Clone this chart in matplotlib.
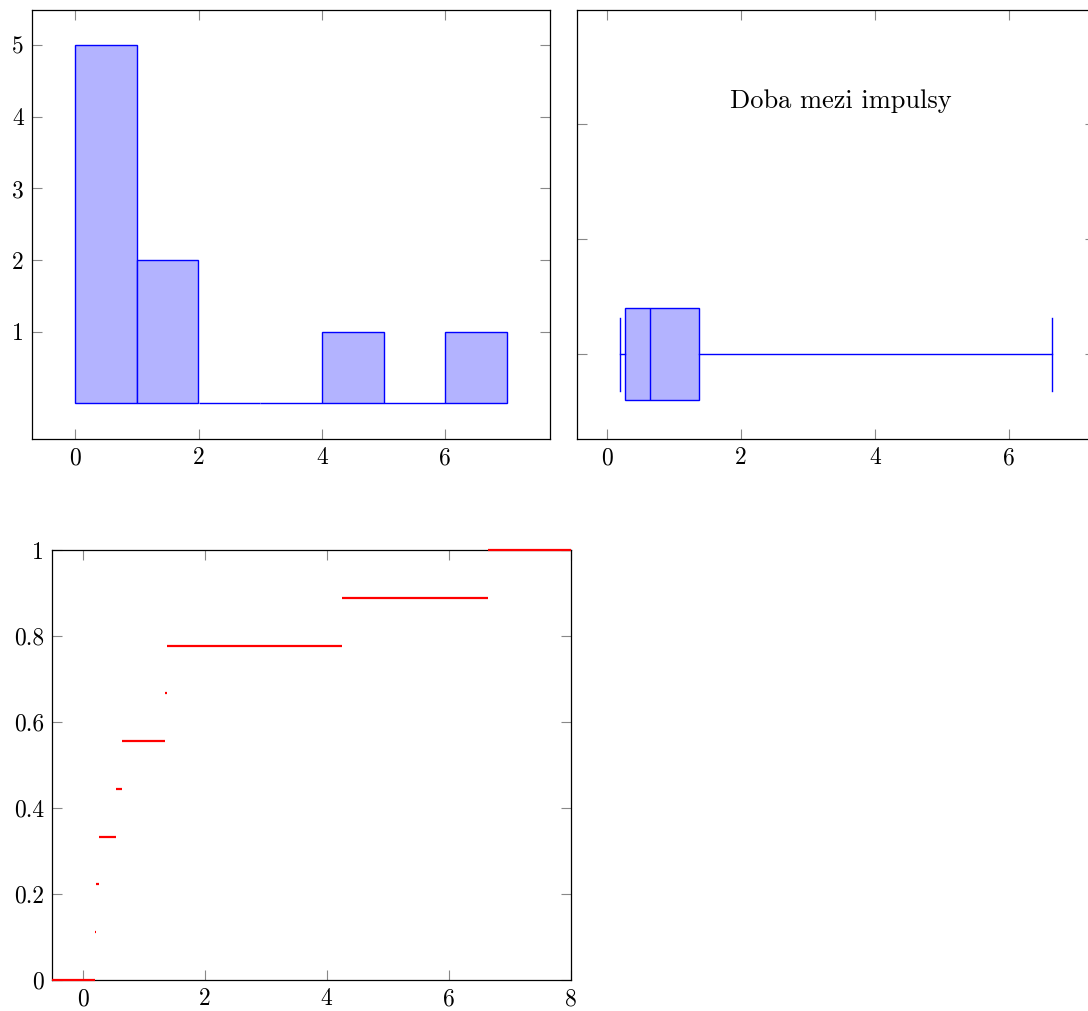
import numpy as np
import matplotlib
matplotlib.use("Agg")
import matplotlib.pyplot as plt

# Data: times between impulses (sorted)
samples = [0.2, 0.21, 0.27, 0.55, 0.65, 1.34, 1.38, 4.25, 6.64]
hist_bins = [0, 1, 2, 3, 4, 5, 6, 7]
box_label = "Doba mezi impulsy"
hist_yticks = [1, 2, 3, 4, 5]
hist_xticks = [0, 2, 4, 6]
box_yticks = [1, 2, 3]
ecdf_xticks = [0, 2, 4, 6, 8]
ecdf_yticks = [0, 0.2, 0.4, 0.6, 0.8, 1.0]
ecdf_yticklabels = ["0", "0.2", "0.4", "0.6", "0.8", "1"]

plt.rcParams['font.family'] = ['cmr10', 'DejaVu Serif']
plt.rcParams['axes.formatter.use_mathtext'] = True
plt.rcParams['mathtext.fontset'] = 'cm'

BLUE = '#0000ff'
FILL = '#b3b3ff'
RED = '#ff0000'
TICKC = '#888888'
FS = 17

W, H = 1088, 1011
fig = plt.figure(figsize=(W / 100, H / 100), dpi=100)


def axes_px(left, top, right, bottom):
    return fig.add_axes([left / W, 1 - bottom / H, (right - left) / W, (bottom - top) / H])


def style(ax):
    for s in ax.spines.values():
        s.set_color('black')
        s.set_linewidth(0.9)
    ax.tick_params(direction='in', length=7.5, width=0.8, color=TICKC,
                   top=True, right=True, labelsize=FS, pad=6)


# Histogram
ax1 = axes_px(32, 9.5, 550, 439)
ax1.hist(samples, bins=hist_bins, facecolor=FILL, edgecolor=BLUE, linewidth=1.0)
ax1.set_xlim(-0.7, 7.7)
ax1.set_ylim(-0.5, 5.5)
ax1.set_xticks(hist_xticks)
ax1.set_xticklabels([str(t) for t in hist_xticks])
ax1.set_yticks(hist_yticks)
ax1.set_yticklabels([str(t) for t in hist_yticks])
style(ax1)

# Box plot
ax2 = axes_px(577, 9.5, 1095, 439)
ax2.boxplot([samples], orientation='horizontal', positions=[1], widths=0.8,
            whis=(0, 100), patch_artist=True, capwidths=0.64,
            boxprops=dict(facecolor=FILL, edgecolor=BLUE, linewidth=1.0),
            medianprops=dict(color=BLUE, linewidth=1.0),
            whiskerprops=dict(color=BLUE, linewidth=1.0),
            capprops=dict(color=BLUE, linewidth=1.0),
            showfliers=False)
ax2.set_xlim(-0.444, 7.284)
ax2.set_ylim(0.263, 4.0)
ax2.set_xticks(hist_xticks)
ax2.set_xticklabels([str(t) for t in hist_xticks])
ax2.set_yticks(box_yticks)
ax2.set_yticklabels([])
ax2.text(3.49, 3.14, box_label, ha='center', va='baseline', fontsize=19)
style(ax2)

# ECDF
ax3 = axes_px(52.3, 550, 570.7, 980)
n = len(samples)
starts = [-0.5] + samples
ends = samples + [8.0]
levels = [i / n for i in range(n + 1)]
ax3.hlines(levels, starts, ends, colors=RED, linewidth=1.6, zorder=3, clip_on=False)
ax3.set_xlim(-0.5, 8)
ax3.set_ylim(0, 1)
ax3.set_xticks(ecdf_xticks)
ax3.set_xticklabels([str(t) for t in ecdf_xticks])
ax3.set_yticks(ecdf_yticks)
ax3.set_yticklabels(ecdf_yticklabels)
style(ax3)

fig.savefig('out.png', dpi=100)
